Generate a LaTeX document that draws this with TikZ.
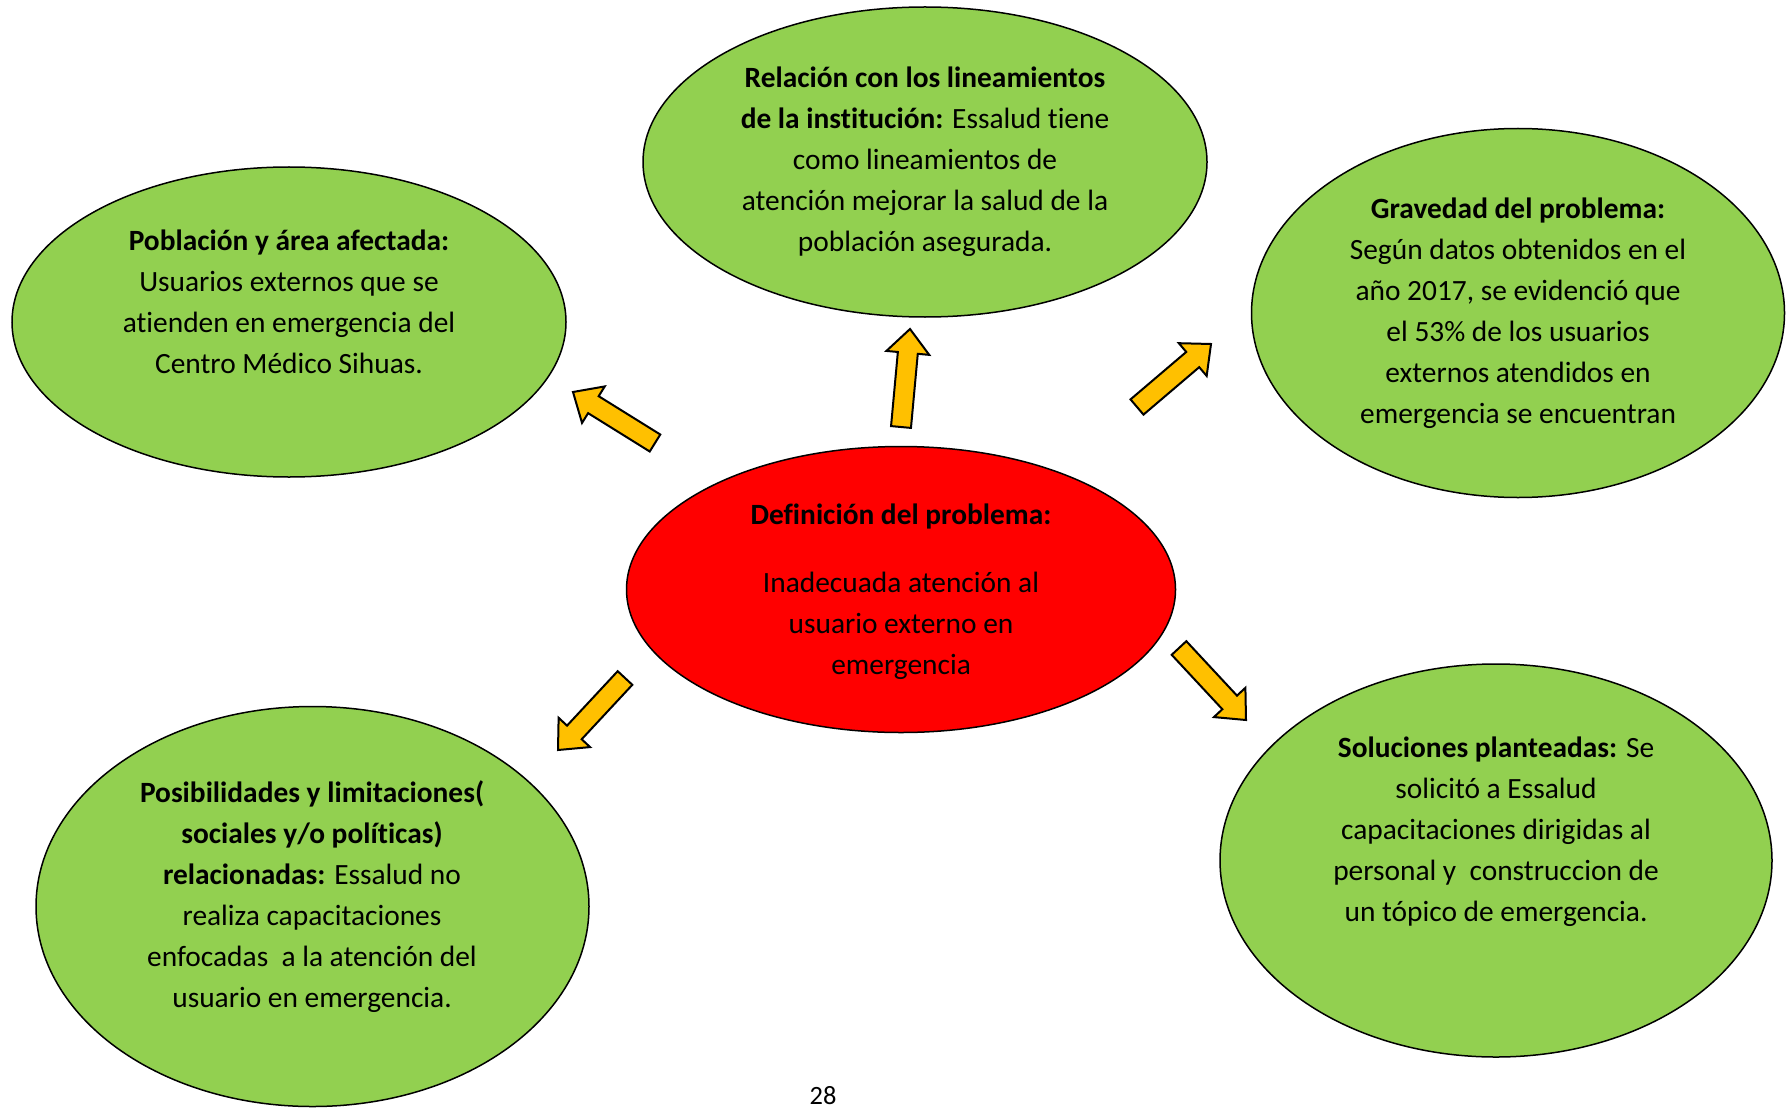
\documentclass[tikz,border=0pt]{standalone}
\usepackage{fontspec}
\setmainfont{Carlito}[Ligatures=NoCommon]
\usepackage{xcolor}
\usetikzlibrary{shapes.geometric,calc}
\definecolor{BubbleGreen}{HTML}{92D050}
\definecolor{ProblemRed}{HTML}{FF0000}
\definecolor{ArrowGold}{HTML}{FFC000}

\begin{document}
\begin{tikzpicture}[
  x=0.5pt, y=-0.5pt,
  bubble/.style={draw,ellipse,fill=BubbleGreen,line width=0.75pt,inner sep=0pt},
  txt/.style={align=center,inner sep=0pt,font=\fontsize{14.7}{20.5}\selectfont},
  flecha/.style={draw,fill=ArrowGold,line width=1pt,line join=miter}
]
  \useasboundingbox (0,0) rectangle (1786,1107);

  % ellipses
  \node[bubble, minimum width=282pt, minimum height=155pt] (inst) at (925,162) {};
  \node[bubble, minimum width=277pt, minimum height=155pt] (pob) at (289,322) {};
  \node[bubble, minimum width=266.5pt, minimum height=184.5pt] (grav) at (1518,313) {};
  \node[bubble, fill=ProblemRed, minimum width=274.5pt, minimum height=143pt] (def) at (901,589.5) {};
  \node[bubble, minimum width=276.5pt, minimum height=200pt] (pos) at (312.5,906.5) {};
  \node[bubble, minimum width=276pt, minimum height=196.5pt] (sol) at (1496,860.5) {};

  % texts
  \node[txt] (insttxt) at (925,162) {\textbf{Relación con los lineamientos}\\ \textbf{de la institución:} Essalud tiene\\ como lineamientos de\\ atención mejorar la salud de la\\ población asegurada.};
  \node[txt] (pobtxt) at (289,302) {\textbf{Población y área afectada:}\\ Usuarios externos que se\\ atienden en emergencia del\\ Centro Médico Sihuas.};
  \node[txt] (gravtxt) at (1518,313) {\textbf{Gravedad del problema:}\\ Según datos obtenidos en el\\ año 2017, se evidenció que\\ el 53\% de los usuarios\\ externos atendidos en\\ emergencia se encuentran};
  \node[txt] (deftxt) at (901,592) {\textbf{Definición del problema:}\\[13.5pt] Inadecuada atención al\\ usuario externo en\\ emergencia};
  \node[txt] (postxt) at (312,897) {\textbf{Posibilidades y limitaciones(}\\ \textbf{sociales y/o políticas)}\\ \textbf{relacionadas:} Essalud no\\ realiza capacitaciones\\ enfocadas\ \ a la atención del\\ usuario en emergencia.};
  \node[txt] (soltxt) at (1496,832) {\textbf{Soluciones planteadas:} Se\\ solicitó a Essalud\\ capacitaciones dirigidas al\\ personal y\ \ construccion de\\ un tópico de emergencia.};

  \node[anchor=base, inner sep=0pt, font=\fontsize{13.2}{14}\selectfont] (pag) at (823,1104) {28};

  % block arrows
  \coordinate (ua) at (901,427);  \coordinate (ub) at (910,329);
  \coordinate (la) at (655,443);  \coordinate (lb) at (573,392);
  \coordinate (ra) at (1137,407); \coordinate (rb) at (1211,344);
  \coordinate (da) at (1179,648); \coordinate (db) at (1246,720);
  \coordinate (ia) at (625,678);  \coordinate (ib) at (558,750);
  \foreach \ini/\fin in {ua/ub,la/lb,ra/rb,da/db,ia/ib}{
    \coordinate (hb) at ($(\fin)!12pt!(\ini)$);
    \draw[flecha] ($(\ini)!5pt!90:(\fin)$) -- ($(hb)!5pt!-90:(\ini)$)
      -- ($(hb)!10.75pt!-90:(\ini)$) -- (\fin) -- ($(hb)!10.75pt!90:(\ini)$)
      -- ($(hb)!5pt!90:(\ini)$) -- ($(\ini)!5pt!-90:(\fin)$) -- cycle;
  }
\end{tikzpicture}
\end{document}
